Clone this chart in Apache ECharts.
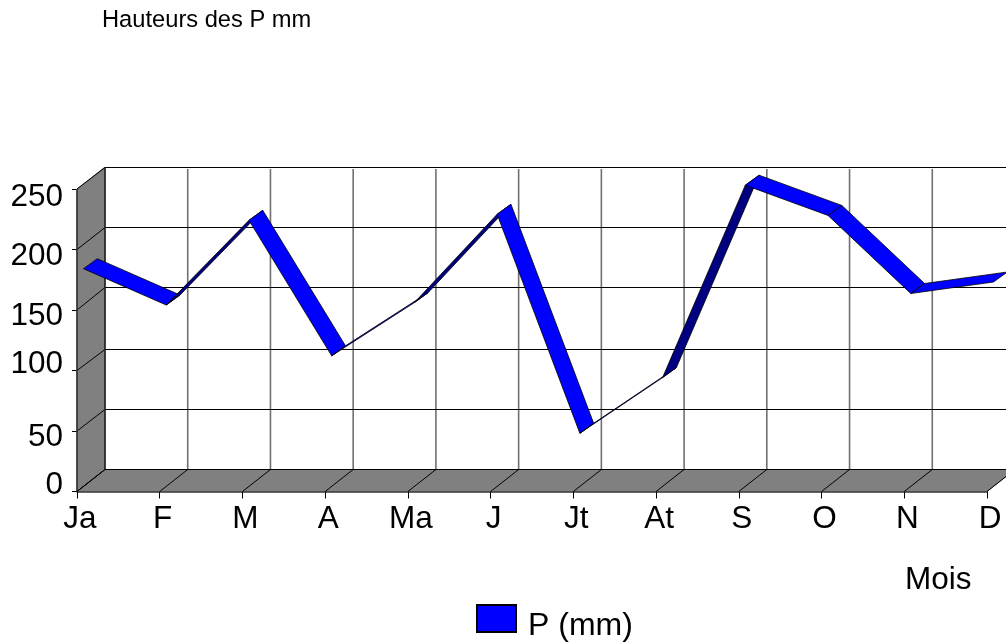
<!DOCTYPE html>
<html><head><meta charset="utf-8">
<style>html,body{margin:0;padding:0;background:#fff}#c{width:1006px;height:643px}</style>
<script src="https://cdn.jsdelivr.net/npm/echarts@6/dist/echarts.min.js"></script>
</head><body><div id="c"></div>
<script>
const months = ['Ja','F','M','A','Ma','J','Jt','At','S','O','N','D'];
const rainfall = [180,150,220,108,152,225,44,90,249,224,159.5,169];
const valueTicks = [0,50,100,150,200,250];
const yLabelNudge = {0:-6,50:6,100:-6,150:6,200:7,250:8};
const backLineNudge = {100:1,150:-1};

const DEPTH = [28,-22];       // wall depth in px
const FRONT = [6.5,-5];       // ribbon front edge offset
const RIBBON = [13.8,-10];    // ribbon depth
const add = (p,d)=>[p[0]+d[0],p[1]+d[1]];
const line = (a,b,stroke,lw)=>({type:'line',shape:{x1:a[0],y1:a[1],x2:b[0],y2:b[1]},style:{stroke,lineWidth:lw,fill:null}});
const poly = (pts,fill,stroke,lw)=>({type:'polygon',shape:{points:pts},style:{fill,stroke,lineWidth:lw,lineJoin:'miter'}});

function renderWalls(params,api){
  const last = months.length-1, top = valueTicks[valueTicks.length-1];
  const o = api.coord([0,0]), t = api.coord([0,top]), r = api.coord([last,0]);
  const kids = [];
  kids.push(poly([o,t,add(t,DEPTH),add(o,DEPTH)],'#808080','#333',0.6));
  kids.push(poly([o,r,add(r,DEPTH),add(o,DEPTH)],'#808080','#333',0.6));
  months.forEach((m,i)=>{
    const f = api.coord([i,0]), b = add(f,DEPTH), bt = add(api.coord([i,top]),DEPTH);
    kids.push(line(f,b,'#000',1));
    if(i>0) kids.push(line(b,[bt[0],bt[1]+2],'#707070',1.6));
  });
  valueTicks.forEach(v=>{
    const f = api.coord([0,v]), b = add(f,DEPTH);
    const yb = Math.floor(b[1])+0.5+(backLineNudge[v]||0);
    kids.push(line(f,[b[0],yb],'#000',1));
    kids.push(line([b[0],yb],[1015,yb],'#000',1));
  });
  kids.push(line(add(o,DEPTH),add(t,DEPTH),'#222',1.6));
  kids.push(line(o,t,'#333',1.6));
  return {type:'group',children:kids};
}
function renderRibbon(params,api){
  const i = api.value(0);
  const a = add(api.coord([i,api.value(1)]),FRONT);
  const b = add(api.coord([i+1,api.value(2)]),FRONT);
  const e = [b[0]-a[0],b[1]-a[1]];
  const cross = e[0]*RIBBON[1]-e[1]*RIBBON[0];
  return poly([a,b,add(b,RIBBON),add(a,RIBBON)],cross>0?'#000080':'#0000ff','#000',0.8);
}

const chart = echarts.init(document.getElementById('c'),null,{renderer:'canvas'});
chart.setOption({
  animation:false,
  backgroundColor:'#fff',
  textStyle:{fontFamily:'"Liberation Sans",Arial,sans-serif',color:'#000'},
  title:{text:'Hauteurs des P mm',left:97,top:3,textStyle:{fontSize:23.7,fontWeight:'normal',color:'#000',fontFamily:'"Liberation Sans",Arial,sans-serif'}},
  legend:{data:['P (mm)'],left:471,top:597,icon:'rect',itemWidth:39,itemHeight:27,itemGap:12,
    formatter:n=>`{s| }\n{t|${n}}`,
    textStyle:{rich:{s:{fontSize:1,lineHeight:15},t:{fontSize:32,color:'#000',fontFamily:'"Liberation Sans",Arial,sans-serif',padding:[0,0,0,7]}}}},
  grid:{left:77,top:189,width:910,height:302.5},
  xAxis:{type:'category',data:months,boundaryGap:false,name:'Mois',nameLocation:'end',nameGap:-82,
    nameTextStyle:{fontSize:31.5,color:'#000',verticalAlign:'top',padding:[73,0,0,0]},
    axisLine:{lineStyle:{color:'#333',width:1.5}},axisTick:{length:7,inside:false,lineStyle:{color:'#000'},alignWithLabel:true},
    axisLabel:{fontSize:31.5,color:'#000',margin:12,padding:[0,0,0,6],showMinLabel:true,showMaxLabel:true,interval:0},splitLine:{show:false}},
  yAxis:{type:'value',min:0,max:250,interval:50,
    axisLine:{show:false},axisTick:{show:true,length:5,lineStyle:{color:'#000'}},splitLine:{show:false},
    axisLabel:{margin:14,formatter:v=>`{n${v}|${v}}`,showMinLabel:true,showMaxLabel:true,
      rich:Object.fromEntries(valueTicks.map(v=>{const d=yLabelNudge[v];return [`n${v}`,{fontSize:31.5,color:'#000',padding:d>0?[2*d,0,0,0]:[0,0,-2*d,0]}];}))}},
  series:[
    {name:'walls',type:'custom',z:1,silent:true,renderItem:renderWalls,data:[[0,0]],encode:{x:0,y:1}},
    {name:'P (mm)',type:'custom',z:3,silent:true,renderItem:renderRibbon,
     itemStyle:{color:'#0000ff',borderColor:'#000',borderWidth:1},
     data:rainfall.slice(0,-1).map((v,i)=>[i,v,rainfall[i+1]]),encode:{x:0,y:1}}
  ]
});
</script></body></html>
